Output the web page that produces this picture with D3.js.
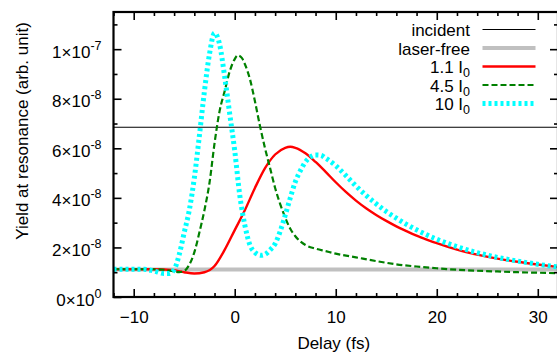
<!DOCTYPE html>
<html>
<head>
<meta charset="utf-8">
<script src="https://cdn.jsdelivr.net/npm/d3@7"></script>
<style>
  html, body { margin: 0; padding: 0; background: #fff; }
  svg { display: block; font-family: "Liberation Sans", Arial, sans-serif; }
</style>
</head>
<body>
<svg id="chart" width="557" height="354"></svg>
<script>
// ---- data (yield values in units of 1e-8) ----
const UNIT = 1e-8;

const incidentX = [-12, 32];
const incidentY = [6.85, 6.85];

const laserFreeX = [-12, 32];
const laserFreeY = [1.11, 1.11];

const redX = [-12,-8,-6,-5,-4,-3,-2,-1,0,1,2,3,4,5,5.5,6,7,8,9,10,11,12,13,14,15,16,17,18,19,20,22,24,26,28,30,32];
const redY = [1.12,1.12,1.08,1.0,0.95,1.0,1.25,1.9,2.7,3.5,4.4,5.2,5.75,6.02,6.06,6.02,5.8,5.45,5.05,4.63,4.24,3.89,3.58,3.31,3.07,2.85,2.66,2.48,2.32,2.17,1.91,1.71,1.55,1.42,1.31,1.21];

const greenX = [-12,-8,-7,-6,-5.5,-5,-4.5,-4,-3.5,-3,-2.5,-2,-1.5,-1,-0.5,0,0.3,0.7,1,1.5,2,2.5,3,3.5,4,4.5,5,5.5,6,7,8,9,10,12,14,16,18,20,22,24,26,28,30,32];
const greenY = [1.12,1.12,1.1,1.03,1.0,1.05,1.3,1.8,2.6,3.5,4.6,6.2,7.5,8.3,9.1,9.6,9.75,9.65,9.4,8.8,7.9,6.9,6.0,5.2,4.4,3.75,3.2,2.75,2.45,2.1,1.95,1.85,1.75,1.6,1.45,1.32,1.23,1.16,1.1,1.06,1.03,1.0,0.98,0.96];

const cyanX = [-12,-9,-8,-7,-6.5,-6,-5.5,-5,-4.5,-4,-3.5,-3,-2.5,-2,-1.5,-1,-0.5,0,0.5,1,1.5,2,2.6,3,3.5,4,4.5,5,5.5,6,6.5,7,7.5,8,8.5,9,10,11,12,13,14,15,16,17,18,19,20,22,24,26,28,30,32];
const cyanY = [1.12,1.12,1.05,0.95,0.95,1.1,1.7,2.6,3.5,4.8,6.5,8.3,9.8,10.65,10.2,8.9,7.4,5.9,4.1,2.9,2.1,1.8,1.68,1.72,1.9,2.15,2.65,3.3,4.0,4.65,5.1,5.45,5.65,5.73,5.72,5.6,5.3,4.9,4.48,4.1,3.76,3.45,3.18,2.93,2.71,2.51,2.33,2.03,1.79,1.6,1.45,1.32,1.21];

const xMajorTicks = [-10, 0, 10, 20, 30];
const xMinorTicks = [-12,-8,-6,-4,-2,2,4,6,8,12,14,16,18,22,24,26,28,32];
const yMajorTicks = [0, 2e-8, 4e-8, 6e-8, 8e-8, 1e-7];
const yTickMantissa = ["0", "2", "4", "6", "8", "1"];
const yTickExponent = ["0", "-8", "-8", "-8", "-8", "-7"];
const yMinorTicks = [1e-8, 3e-8, 5e-8, 7e-8, 9e-8, 1.1e-7];

const legendNames = ["incident", "laser-free", "1.1 I", "4.5 I", "10 I"];
const legendSubs = ["", "", "0", "0", "0"];

// ---- layout ----
const svg = d3.select("#chart");
const L = 113.5, R = 558, T = 12, B = 297;
const x = d3.scaleLinear().domain([-12, 32]).range([L, R]);
const y = d3.scaleLinear().domain([0, 1.15e-7]).range([B, T]);

svg.append("defs").append("clipPath").attr("id", "clip")
  .append("rect").attr("x", L).attr("y", T).attr("width", R - L).attr("height", B - T);

const series = [
  { xs: incidentX, ys: incidentY, color: "#000000", width: 1.2, dash: null },
  { xs: laserFreeX, ys: laserFreeY, color: "#c0c0c0", width: 4, dash: null },
  { xs: redX, ys: redY, color: "#ff0000", width: 2.4, dash: null },
  { xs: greenX, ys: greenY, color: "#008000", width: 2.2, dash: "6,3" },
  { xs: cyanX, ys: cyanY, color: "#00ffff", width: 5, dash: "3,3" }
];

const line = d3.line()
  .x(d => x(d[0]))
  .y(d => y(d[1] * UNIT))
  .curve(d3.curveMonotoneX);

const plot = svg.append("g").attr("clip-path", "url(#clip)");
series.forEach(s => {
  const pts = s.xs.map((v, i) => [v, s.ys[i]]);
  plot.append("path")
    .attr("d", line(pts))
    .attr("fill", "none")
    .attr("stroke", s.color)
    .attr("stroke-width", s.width)
    .attr("stroke-dasharray", s.dash);
});

// ---- axes ----
function styleAxis(g) {
  g.select(".domain").remove();
  g.selectAll(".tick line").attr("stroke", "#000").attr("stroke-width", 1.6);
  g.selectAll("text").attr("font-size", 17).attr("fill", "#000")
    .attr("font-family", "Liberation Sans, Arial, sans-serif");
}

svg.append("g").attr("transform", `translate(0,${B})`)
  .call(d3.axisBottom(x).tickValues(xMajorTicks).tickSize(-8).tickSizeOuter(0).tickPadding(13.6).tickFormat(d3.format("d")))
  .call(styleAxis);
svg.append("g").attr("transform", `translate(0,${B})`)
  .call(d3.axisBottom(x).tickValues(xMinorTicks).tickSize(-4).tickSizeOuter(0).tickFormat(""))
  .call(styleAxis);
svg.append("g").attr("transform", `translate(0,${T})`)
  .call(d3.axisTop(x).tickValues(xMajorTicks).tickSize(-8).tickSizeOuter(0).tickFormat(""))
  .call(styleAxis);
svg.append("g").attr("transform", `translate(0,${T})`)
  .call(d3.axisTop(x).tickValues(xMinorTicks).tickSize(-4).tickSizeOuter(0).tickFormat(""))
  .call(styleAxis);

const yAx = svg.append("g").attr("transform", `translate(${L},0)`)
  .call(d3.axisLeft(y).tickValues(yMajorTicks).tickSize(-8).tickSizeOuter(0).tickPadding(12).tickFormat(""))
  .call(styleAxis);
svg.append("g").attr("transform", `translate(${L},0)`)
  .call(d3.axisLeft(y).tickValues(yMinorTicks).tickSize(-4).tickSizeOuter(0).tickFormat(""))
  .call(styleAxis);
svg.append("g").attr("transform", `translate(${R},0)`)
  .call(d3.axisRight(y).tickValues(yMajorTicks).tickSize(-8).tickSizeOuter(0).tickFormat(""))
  .call(styleAxis);
svg.append("g").attr("transform", `translate(${R},0)`)
  .call(d3.axisRight(y).tickValues(yMinorTicks).tickSize(-4).tickSizeOuter(0).tickFormat(""))
  .call(styleAxis);

// y tick labels with superscripts
yAx.selectAll(".tick text").each(function(d, i) {
  const t = d3.select(this);
  t.text(null).attr("dy", null).attr("y", 8).attr("x", -12).attr("text-anchor", "end");
  t.append("tspan").text(yTickMantissa[i] + "\u00d710");
  t.append("tspan").attr("dy", -8).attr("font-size", 12.5).text(yTickExponent[i]);
});

// border
svg.append("rect")
  .attr("x", L).attr("y", T).attr("width", R - L).attr("height", B - T)
  .attr("fill", "none").attr("stroke", "#000").attr("stroke-width", 2.2);

// axis titles
svg.append("text")
  .attr("x", (x(-12) + x(32)) / 2 - 2).attr("y", 348.5)
  .attr("text-anchor", "middle").attr("font-size", 17)
  .text("Delay (fs)");
svg.append("text")
  .attr("transform", "translate(28,131) rotate(-90)")
  .attr("text-anchor", "middle").attr("font-size", 17)
  .text("Yield at resonance (arb. unit)");

// legend
const lg = svg.append("g");
legendNames.forEach((name, i) => {
  const yy = 29.5 + i * 18.5;
  const s = series[i];
  const t = lg.append("text").attr("x", 470).attr("y", yy + 6.5)
    .attr("text-anchor", "end").attr("font-size", 17);
  t.append("tspan").text(name);
  if (legendSubs[i]) {
    t.append("tspan").attr("dy", 4).attr("font-size", 12.5).text(legendSubs[i]);
  }
  lg.append("line")
    .attr("x1", 482.5).attr("x2", 535.5).attr("y1", yy).attr("y2", yy)
    .attr("stroke", s.color).attr("stroke-width", s.width)
    .attr("stroke-dasharray", s.dash);
});
</script>
</body>
</html>
